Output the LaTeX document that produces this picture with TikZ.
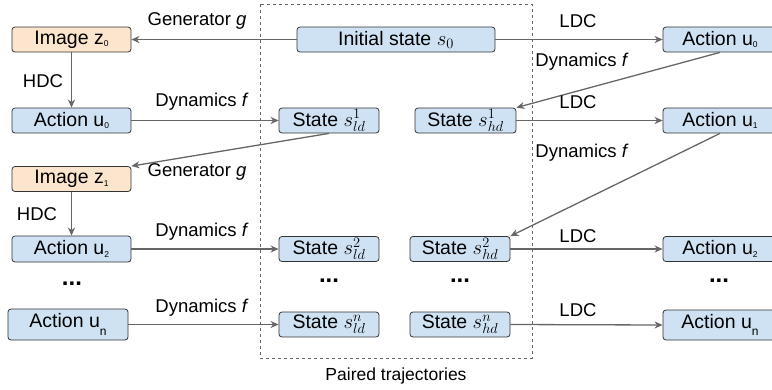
\documentclass[tikz,border=0pt]{standalone}
\usepackage{fontspec}
\setmainfont{Liberation Sans}
\usetikzlibrary{arrows.meta}
\definecolor{bluefill}{HTML}{CFE2F3}
\definecolor{orangefill}{HTML}{FCE5CD}
\definecolor{boxline}{HTML}{333333}
\definecolor{edgecol}{HTML}{666666}
\newcommand{\dsub}[1]{\raisebox{-0.25ex}{\fontsize{8.5}{9}\selectfont #1}}
\newcommand{\nsub}[1]{\raisebox{-0.75ex}{\fontsize{12}{12}\selectfont #1}}
\begin{document}
\begin{tikzpicture}[x=1pt,y=-1pt,
  every node/.style={font=\fontsize{18.5}{21}\selectfont},
  bbox/.style={draw=boxline,line width=0.8pt,rounded corners=3pt,fill=bluefill,inner sep=0pt,minimum height=25pt,font=\fontsize{19.5}{22}\selectfont},
  obox/.style={bbox,fill=orangefill},
  conn/.style={draw=edgecol,line width=1.3pt,-{Stealth[length=8pt,width=7pt,inset=2.5pt]}},
  lbl/.style={inner sep=0pt,text=black},
  dotsn/.style={inner sep=0pt,font=\fontsize{24}{24}\selectfont\bfseries}]
\useasboundingbox (0,0) rectangle (772,389);
% dashed group
\draw[dashed,draw=edgecol,line width=0.8pt] (260,4) rectangle (532,358);
\node[lbl,font=\fontsize{17.5}{20}\selectfont] (paired) at (396,376) {Paired trajectories};
% nodes
\node[obox,minimum width=119pt] (img0) at (71.5,39.5) {Image z\dsub{0}};
\node[bbox,minimum width=198pt] (init) at (396,39.5) {Initial state $s_0$};
\node[bbox,minimum width=114pt] (ru0) at (720,39.5) {Action u\dsub{0}};
\node[bbox,minimum width=119pt] (lu0) at (71.5,120.5) {Action u\dsub{0}};
\node[bbox,minimum width=100pt] (ld1) at (329,120.5) {State $s^1_{ld}$};
\node[bbox,minimum width=101pt] (hd1) at (465.5,120.5) {State $s^1_{hd}$};
\node[bbox,minimum width=114pt] (ru1) at (720,120.5) {Action u\dsub{1}};
\node[obox,minimum width=119pt] (img1) at (71.5,179) {Image z\dsub{1}};
\node[bbox,minimum width=119pt,minimum height=26pt] (lu2) at (71.5,249) {Action u\dsub{2}};
\node[bbox,minimum width=100pt] (ld2) at (329,249) {State $s^2_{ld}$};
\node[bbox,minimum width=100pt] (hd2) at (460,249) {State $s^2_{hd}$};
\node[bbox,minimum width=114pt] (ru2) at (720,249) {Action u\dsub{2}};
\node[dotsn] (dl) at (72,284) {...};
\node[dotsn] (dld) at (329,281) {...};
\node[dotsn] (dhd) at (460,281) {...};
\node[dotsn] (dr) at (719,281) {...};
\node[bbox,minimum width=120pt,minimum height=31pt] (lun) at (68,324.5) {Action u\nsub{n}};
\node[bbox,minimum width=100pt] (ldn) at (329,324.5) {State $s^n_{ld}$};
\node[bbox,minimum width=100pt] (hdn) at (460,324.5) {State $s^n_{hd}$};
\node[bbox,minimum width=114pt,minimum height=30pt] (run) at (720,325) {Action u\nsub{n}};
% connectors
\draw[conn] (init.west) -- (img0.east);
\node[lbl] (lg1) at (197,21) {Generator \textit{g}};
\draw[conn] (init.east) -- (ru0.west);
\node[lbl] (ll1) at (578,21) {LDC};
\draw[conn] (img0.south) -- (lu0.north);
\node[lbl] (lh1) at (43,81) {HDC};
\draw[conn] (lu0.east) -- (ld1.west);
\node[lbl] (ldy1) at (202,102) {Dynamics \textit{f}};
\draw[conn] (ru0.south) -- (hd1.north east);
\node[lbl] (rdy1) at (582,62) {Dynamics \textit{f}};
\draw[conn] (hd1.east) -- (ru1.west);
\node[lbl] (ll2) at (578,102) {LDC};
\draw[conn] (ld1.south) -- (img1.north east);
\node[lbl] (lg2) at (197,172) {Generator \textit{g}};
\draw[conn] (img1.south) -- (lu2.north);
\node[lbl] (lh2) at (37,214) {HDC};
\draw[conn] (ru1.south) -- (hd2.north east);
\node[lbl] (rdy2) at (582,153) {Dynamics \textit{f}};
\draw[conn] (lu2.east) -- (ld2.west);
\node[lbl] (ldy2) at (202,232) {Dynamics \textit{f}};
\draw[conn] (hd2.east) -- (ru2.west);
\node[lbl] (ll3) at (578,236) {LDC};
\draw[conn] (lun.east) -- (ldn.west);
\node[lbl] (ldy3) at (202,308) {Dynamics \textit{f}};
\draw[conn] (hdn.east) -- (run.west);
\node[lbl] (ll4) at (578,310) {LDC};
\end{tikzpicture}
\end{document}
